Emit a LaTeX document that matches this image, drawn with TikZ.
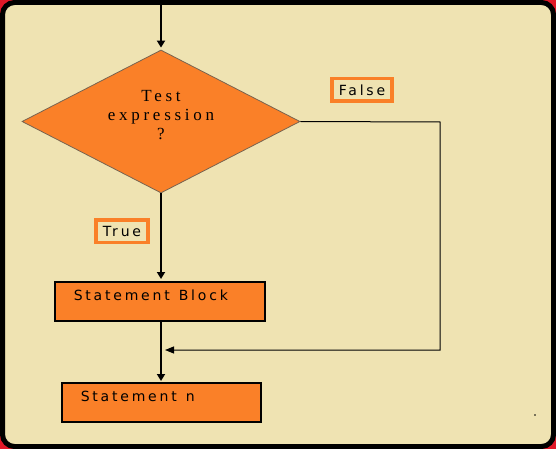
\documentclass[tikz,border=0pt]{standalone}
\usepackage{fontspec}
\setmainfont{Liberation Serif}
\newfontfamily\boxfont[LetterSpace=20]{DejaVu Sans}
\newfontfamily\diafont[LetterSpace=22]{Liberation Serif}
\usepackage{tikz}
\usetikzlibrary{shapes.geometric, arrows.meta}

\definecolor{flowor}{RGB}{250,128,40}
\definecolor{beige}{RGB}{239,227,178}
\definecolor{framered}{RGB}{224,24,40}
\definecolor{diagray}{RGB}{120,100,80}

\begin{document}
\begin{tikzpicture}[
  x=1pt, y=-1pt,
  box/.style={draw=black, line width=1.5pt, fill=flowor, anchor=north west, align=left,
    minimum height=39pt, inner xsep=19pt, inner ysep=0pt, text height=10pt, text depth=11pt,
    font=\boxfont\fontsize{14}{16}\selectfont},
  tag/.style={draw=flowor, line width=3.5pt, fill=beige, minimum height=22.5pt,
    inner xsep=7pt, inner ysep=0pt, font=\boxfont\fontsize{14}{16}\selectfont},
  test/.style={diamond, draw=diagray, line width=0.8pt, fill=flowor, minimum width=278pt,
    minimum height=143pt, shape aspect=2, inner sep=0pt, align=center, text depth=13pt,
    font=\diafont\fontsize{17}{19}\selectfont},
  arr/.style={-{Triangle[width=8pt,length=7pt]}, line width=1.8pt}
]
\useasboundingbox (0,0) rectangle (556,449);
% frame
\fill[framered] (0,0) rectangle (556,449);
\draw[line width=5pt, rounded corners=12pt, fill=beige] (2.5,2.5) rectangle (553.5,446.5);

\node[test] (test) at (161,121.5) {Test\\expression\\?};
\node[box, text width=172pt] (blk) at (54,281) {Statement\hspace{9pt}Block};
\node[box, text width=161pt] (stn) at (61,382) {Statement\hspace{9pt}n};
\node[tag] (false) at (362,90) {False};
\node[tag] (true) at (122,231) {True};

\coordinate (entry) at (161,0);
\coordinate (fr) at (440,122);
\coordinate (fb) at (440,350);
\coordinate (join) at (161,350);

\draw[arr, shorten >=2pt] (entry) -- (test.north);
\draw[arr, shorten >=2pt] (test.south) -- (test.south |- blk.north);
\draw[arr, shorten >=1pt] (test.south |- blk.south) -- (test.south |- stn.north);
\draw[-{Triangle[width=7pt,length=9pt]}, line width=1pt, shorten >=4pt]
  (test.east) -- (fr) -- (fb) -- (join);

\fill (535,415) circle (0.8);
\end{tikzpicture}
\end{document}
